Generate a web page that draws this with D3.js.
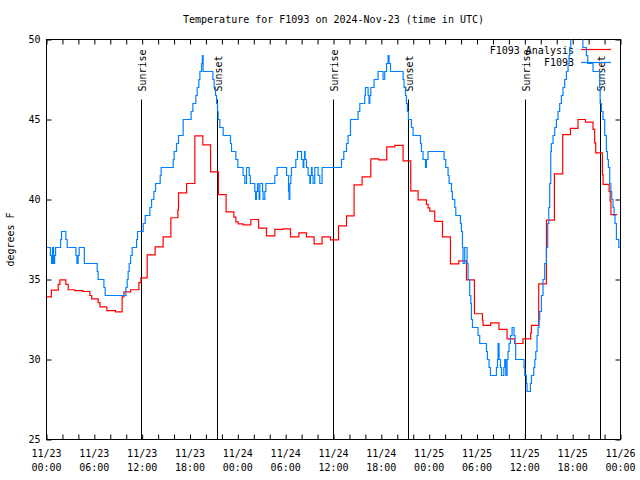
<!DOCTYPE html>
<html>
<head>
<meta charset="utf-8">
<script src="https://cdn.jsdelivr.net/npm/d3@7"></script>
<style>
  body { margin: 0; background: #fff; }
  svg { display: block; }
  text { font-family: "DejaVu Sans Mono", monospace; font-size: 10px; fill: #000; }
</style>
</head>
<body>
<svg id="chart" width="640" height="480"></svg>
<script>
// hours since 2024-11-23 00:00 UTC
const analysisHours = [0, 0.61, 1.47, 1.68, 2.43, 2.72, 3.56, 4.56, 5.44, 5.66, 6.48, 6.70, 7.57, 8.66, 9.49, 9.71,
  10.55, 11.59, 11.84, 12.63, 13.63, 14.63, 15.6, 16.48, 16.56, 17.57, 18.61, 19.61, 20.58, 21.56, 22.53, 23.5, 23.75,
  24.04, 24.66, 25.63, 26.6, 27.6, 28.64, 29.68, 30.61, 31.65, 32.61, 33.57, 34.57, 35.62, 36.63, 37.63, 38.58, 39.59,
  40.68, 41.68, 42.68, 43.69, 44.73, 45.69, 46.61, 47.66, 47.86, 48.08, 48.7, 49.67, 50.67, 51.71, 52.68, 53.68, 54.68,
  54.76, 55.72, 56.76, 57.77, 58.73, 59.77, 60.74, 60.83, 61.74, 62.71, 63.71, 64.75, 65.72, 66.67, 67.6, 68.55, 68.76,
  68.89, 69.73, 69.81, 70.57, 70.7, 70.8, 71.6];
const analysisTemps = [33.92, 34.33, 34.7, 34.98, 34.69, 34.36, 34.3, 34.25, 34.0, 33.79, 33.55, 33.29, 33.06, 32.98, 33.92, 34.23,
  34.36, 34.8, 35.1, 36.54, 37.04, 37.67, 38.86, 39.33, 40.42, 41.0, 43.98, 43.42, 41.73, 40.3, 39.23, 38.9, 38.6,
  38.48, 38.42, 38.75, 38.21, 37.73, 38.13, 38.17, 37.67, 37.92, 37.67, 37.23, 37.67, 37.48, 38.35, 38.98, 40.92, 41.42,
  42.54, 42.48, 43.29, 43.38, 42.42, 40.54, 39.98, 39.69, 39.48, 39.27, 38.63, 37.67, 35.98, 36.17, 34.98, 32.86, 32.46,
  32.13, 32.29, 31.88, 31.29, 31.0, 31.29, 31.67, 32.13, 34.73, 38.71, 41.6, 44.06, 44.44, 45.0, 44.83, 44.38, 43.54,
  42.92, 41.56, 40.94, 40.5, 39.9, 39.06, 39.06];

const obsHours = [0, 0.49, 0.64, 0.76, 0.89, 1.02, 1.14, 1.77, 1.89, 2.43, 2.6, 3.69, 3.81, 3.97, 4.1, 4.75, 6.36, 6.48,
  7.2, 7.36, 9.96, 10.12, 10.24, 10.37, 10.55, 10.75, 11.3, 11.42, 12.13, 12.38, 12.97, 13.18, 13.47, 13.68, 14.26,
  14.38, 15.89, 16.01, 16.31, 16.56, 17.14, 18.14, 18.36, 18.73, 18.9, 19.11, 19.24, 19.45, 19.55, 19.65, 20.87, 21.03,
  21.2, 21.33, 21.45, 21.53, 21.74, 22.16, 23.08, 23.21, 23.75, 24.0, 24.66, 24.88, 25.09, 25.42, 25.57, 26.13, 26.22,
  26.34, 26.47, 26.55, 26.67, 26.76, 27.1, 27.17, 27.39, 27.51, 28.64, 28.93, 30.11, 30.36, 30.43, 30.52, 30.65, 30.73,
  31.27, 31.49, 31.99, 32.19, 32.28, 32.36, 32.44, 32.61, 32.82, 33.03, 33.12, 33.24, 33.32, 33.44, 33.65, 34.07, 34.28,
  34.57, 37.0, 37.29, 37.63, 37.83, 38.13, 39.08, 39.3, 39.92, 40.01, 40.34, 40.46, 40.55, 40.68, 41.09, 41.59, 42.22,
  42.43, 42.65, 42.85, 42.97, 43.15, 44.73, 44.85, 45.03, 45.15, 45.28, 45.4, 45.78, 45.98, 46.91, 47.03, 47.23, 47.54,
  47.66, 47.86, 49.87, 50.08, 50.37, 50.5, 50.8, 50.92, 51.21, 51.34, 51.92, 52.05, 52.18, 52.25, 52.46, 52.75, 52.88,
  53.09, 53.22, 53.3, 53.43, 54.13, 54.34, 55.19, 55.31, 55.51, 55.69, 56.44, 56.57, 56.64, 56.77, 56.94, 57.07, 57.36,
  57.48, 57.61, 57.77, 57.89, 58.02, 58.19, 58.4, 58.64, 58.77, 58.85, 59.9, 59.99, 60.2, 60.28, 60.7, 60.83, 61.12,
  61.25, 61.37, 61.53, 61.66, 61.78, 61.87, 62.08, 62.28, 62.49, 62.71, 62.87, 63.0, 63.12, 63.25, 63.33, 63.54, 63.75,
  63.96, 64.16, 64.37, 64.59, 64.79, 65.0, 65.22, 65.42, 65.55, 65.63, 65.76, 67.28, 67.72, 67.89, 68.55, 69.39, 69.45,
  69.6, 69.81, 70.02, 70.23, 70.36, 70.48, 70.65, 70.79, 70.9, 71.06, 71.19, 71.31, 71.49, 71.78, 71.96];
const obsTemps = [37, 36.5, 36, 37, 36, 36.5, 37, 37.5, 38, 37.5, 37, 36.5, 36, 36.5, 37, 36, 35.5, 35,
  34.5, 34, 34.5, 35, 35.5, 36, 36.5, 37, 37.5, 38, 38.5, 39, 39.5, 40, 40.5, 41, 41.5,
  42, 42.5, 43, 43.5, 44, 45, 45.5, 46, 46.5, 47, 47.5, 48, 48.5, 49, 48, 47.5, 47,
  46.5, 46, 45.5, 45, 44.5, 44, 43.5, 43, 42.5, 42, 41.5, 41, 42, 41.5, 41, 40.5, 40,
  40.5, 41, 40.5, 40, 41, 40.5, 40, 40.5, 41, 41.5, 42, 41.5, 40.5, 40, 41, 41.5, 42,
  42.5, 43, 42.5, 42, 42.5, 43, 42.5, 42, 41.5, 41, 41.5, 42, 41.5, 41, 42, 41.5, 41,
  42, 42.5, 43, 43.5, 44, 45, 45.5, 46, 46.5, 47, 46.5, 46, 46.5, 47, 47.5, 48, 47.5,
  48, 48.5, 49, 48.5, 48, 47.5, 47, 46.5, 46, 45.5, 45, 44.5, 44, 43.5, 43, 42.5, 42,
  42.5, 43, 42.5, 42, 41.5, 41, 40.5, 40, 39.5, 39, 38.5, 38, 37, 36, 37, 36, 35,
  34, 33.5, 32.5, 32, 31.5, 31, 30.5, 30, 29.5, 29, 29.5, 30, 31, 30, 29.5, 29, 29.5,
  30, 29, 30, 30.5, 31, 31.5, 32, 31.5, 31, 30, 29.5, 29, 28.5, 28, 28.5, 29, 29.5,
  30, 30.5, 31.5, 32, 32.5, 33, 34, 35, 36, 37, 38.5, 39.5, 41, 43, 43.5, 44, 44.5,
  45, 45.5, 46, 46.5, 47, 47.5, 48, 48.5, 49, 49.5, 50.5, 49.5, 49, 48.5, 48, 47, 46,
  45.5, 45, 44, 43, 42.5, 42, 41, 40.5, 40, 39.5, 39, 38.5, 37.5, 37, 37];

const sunriseHours = [11.87, 35.95, 60.03];
const sunsetHours = [21.40, 45.36, 69.42];
const yTicks = [25, 30, 35, 40, 45, 50];
const seriesNames = ['F1093 Analysis', 'F1093'];
const seriesColors = ['#ff0000', '#0080ff'];

const start = Date.UTC(2024, 10, 23);
const toDate = (h) => new Date(start + h * 3600e3);

const svg = d3.select('#chart');
const plotL = 46.5, plotR = 620.5, plotT = 39.5, plotB = 439.5;

const x = d3.scaleUtc().domain([toDate(0), toDate(72)]).range([plotL, plotR]);
const y = d3.scaleLinear().domain([25, 50]).range([plotB, plotT]);

svg.append('defs').append('clipPath').attr('id', 'plotclip')
  .append('rect').attr('x', plotL).attr('y', plotT).attr('width', plotR - plotL).attr('height', plotB - plotT);

// title and y label
svg.append('text').attr('x', (plotL + plotR) / 2).attr('y', 23).attr('text-anchor', 'middle')
  .text('Temperature for F1093 on 2024-Nov-23 (time in UTC)');
svg.append('text').attr('transform', `translate(14,${(plotT + plotB) / 2}) rotate(-90)`)
  .attr('text-anchor', 'middle').text('degrees F');

// axes, ticks pointing inwards like gnuplot
const minorTimes = d3.range(0, 73, 2).map(toDate);
const majorTimes = d3.range(0, 73, 6).map(toDate);
const strip = (g) => g.select('.domain').remove();

svg.append('g').attr('transform', `translate(0,${plotB})`)
  .call(d3.axisBottom(x).tickValues(minorTimes).tickSize(-5).tickFormat('')).call(strip);
svg.append('g').attr('transform', `translate(0,${plotT})`)
  .call(d3.axisTop(x).tickValues(minorTimes).tickSize(-5).tickFormat('')).call(strip);
svg.append('g').attr('transform', `translate(${plotL},0)`)
  .call(d3.axisLeft(y).tickValues(yTicks).tickSize(-5).tickPadding(6)).call(strip);
svg.append('g').attr('transform', `translate(${plotR},0)`)
  .call(d3.axisRight(y).tickValues(yTicks).tickSize(-5).tickFormat('')).call(strip);

svg.selectAll('.tick line').attr('stroke', '#000');
svg.selectAll('.tick text').style('font-family', '"DejaVu Sans Mono", monospace').style('font-size', '10px').attr('fill', '#000');

const fmtDay = d3.utcFormat('%m/%d'), fmtTime = d3.utcFormat('%H:%M');
const xl = svg.append('g').selectAll('text').data(majorTimes).join('text')
  .attr('x', (d) => x(d)).attr('text-anchor', 'middle');
xl.append('tspan').attr('x', (d) => x(d)).attr('y', plotB + 17).text(fmtDay);
xl.append('tspan').attr('x', (d) => x(d)).attr('y', plotB + 31).text(fmtTime);

svg.append('rect').attr('x', plotL).attr('y', plotT).attr('width', plotR - plotL).attr('height', plotB - plotT)
  .attr('fill', 'none').attr('stroke', '#000');

// sunrise / sunset markers
const events = sunriseHours.map((h) => ({ h, label: 'Sunrise' }))
  .concat(sunsetHours.map((h) => ({ h, label: 'Sunset' })));
const yFrac = (f) => plotB - f * (plotB - plotT);
svg.append('g').selectAll('line').data(events).join('line')
  .attr('x1', (d) => Math.round(x(toDate(d.h))) + 0.5).attr('x2', (d) => Math.round(x(toDate(d.h))) + 0.5)
  .attr('y1', plotB).attr('y2', yFrac(0.85)).attr('stroke', '#000');
svg.append('g').selectAll('text').data(events).join('text')
  .attr('transform', (d) => `translate(${x(toDate(d.h)) + 5},${yFrac(0.87)}) rotate(-90)`)
  .text((d) => d.label);

// series, each with its key entry drawn just before it
const series = [
  { hours: analysisHours, temps: analysisTemps },
  { hours: obsHours, temps: obsTemps },
];
const line = d3.line().curve(d3.curveStepAfter).x((d) => x(toDate(d[0]))).y((d) => y(d[1]));
series.forEach((s, i) => {
  const ky = 50 + i * 12.5;
  svg.append('text').attr('x', 574).attr('y', ky).attr('dy', '0.35em').attr('text-anchor', 'end').text(seriesNames[i]);
  svg.append('path').attr('d', `M581,${Math.round(ky) - 0.5}H611`)
    .attr('fill', 'none').attr('stroke', seriesColors[i]).attr('stroke-width', 1.2);
  svg.append('path').datum(d3.zip(s.hours, s.temps)).attr('clip-path', 'url(#plotclip)')
    .attr('d', line).attr('fill', 'none').attr('stroke', seriesColors[i]).attr('stroke-width', 1.2);
});
</script>
</body>
</html>
